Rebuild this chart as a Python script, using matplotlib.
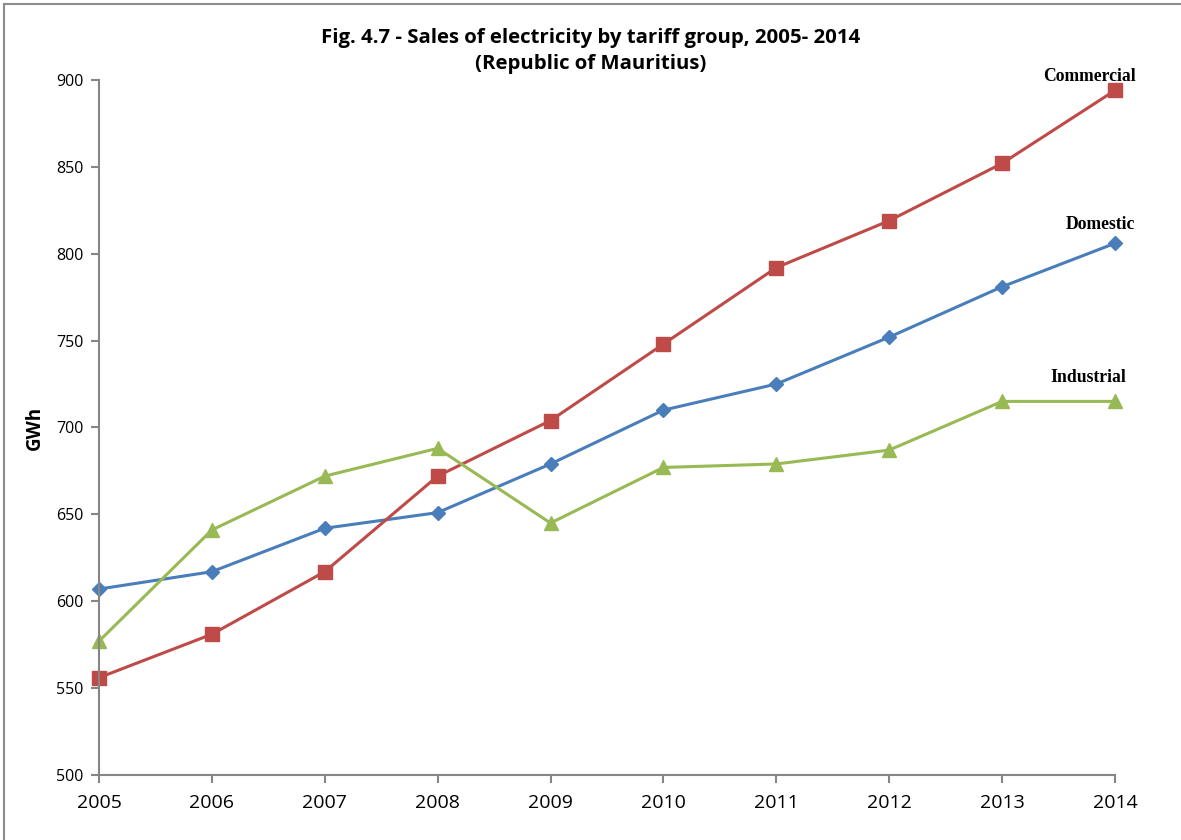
import matplotlib
matplotlib.use("Agg")
import matplotlib.pyplot as plt
from matplotlib.patches import Rectangle

years = [2005, 2006, 2007, 2008, 2009, 2010, 2011, 2012, 2013, 2014]
domestic = [607, 617, 642, 651, 679, 710, 725, 752, 781, 806]
commercial = [556, 581, 617, 672, 704, 748, 792, 819, 852, 894]
industrial = [577, 641, 672, 688, 645, 677, 679, 687, 715, 715]

fig = plt.figure(figsize=(11.81, 8.40), dpi=100)
ax = fig.add_axes([0.0838, 0.0774, 0.8603, 0.8274])

# cadre autour de la figure
fig.patches.append(Rectangle((0.0034, -0.01), 1.1, 1.005, transform=fig.transFigure,
                             fill=False, edgecolor="#8c8c8c", linewidth=1.5))

ax.plot(years, domestic, color="#4a7ebb", linewidth=2.2, marker="D", markersize=7.5, label="Domestic")
ax.plot(years, commercial, color="#be4b48", linewidth=2.2, marker="s", markersize=9.5, label="Commercial")
ax.plot(years, industrial, color="#98b954", linewidth=2.2, marker="^", markersize=9.5, label="Industrial")

ax.set_xlim(2005, 2014)
ax.set_ylim(500, 900)
ax.set_xticks(years)
ax.set_yticks(range(500, 901, 50))

for s in ["top", "right"]:
    ax.spines[s].set_visible(False)
for s in ["left", "bottom"]:
    ax.spines[s].set_color("#868686")
    ax.spines[s].set_linewidth(1.5)
ax.tick_params(axis="both", colors="#868686", width=1.5, length=6, direction="out")
ax.tick_params(axis="x", labelsize=14, labelcolor="black", pad=8)
ax.tick_params(axis="y", labelsize=11.5, labelcolor="black", pad=5)
for lbl in ax.get_xticklabels() + ax.get_yticklabels():
    lbl.set_family("Open Sans")

ax.set_ylabel("GWh", fontsize=13.5, fontweight="bold", family="Open Sans", labelpad=8)
for line in ax.lines:
    line.set_clip_on(False)

fig.text(0.5, 0.939, "Fig. 4.7 - Sales of electricity by tariff group, 2005- 2014\n(Republic of Mauritius)",
         ha="center", va="center", fontsize=14.7, fontweight="bold", family="Open Sans", linespacing=1.4)

lab = dict(fontsize=12.7, fontweight="bold", family="Liberation Serif", ha="center", va="center")
ax.text(2013.77, 902, "Commercial", **lab)
ax.text(2013.87, 817, "Domestic", **lab)
ax.text(2013.76, 729, "Industrial", **lab)

fig.savefig("out.png", dpi=100)
